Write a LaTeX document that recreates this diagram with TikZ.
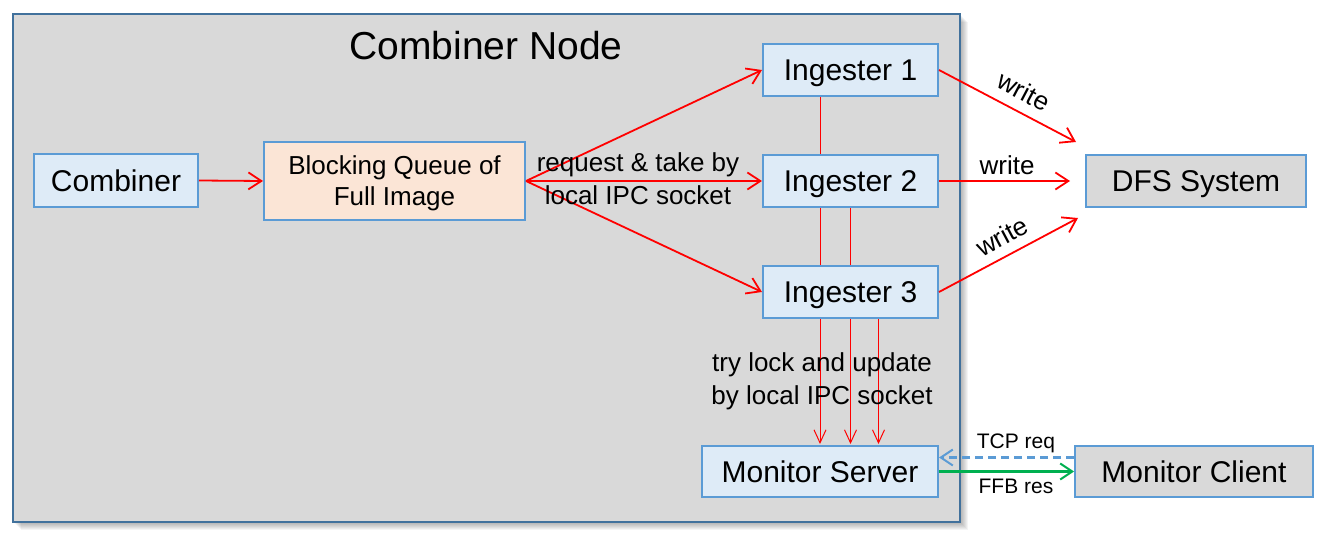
\documentclass[tikz,border=0pt]{standalone}
\usepackage{fontspec}
\setmainfont{Liberation Sans}
\usetikzlibrary{arrows.meta,calc}
\definecolor{boxblue}{HTML}{5B9BD5}
\definecolor{nodefill}{HTML}{DEEBF7}
\definecolor{queuefill}{HTML}{FBE5D6}
\definecolor{panel}{HTML}{D9D9D9}
\definecolor{panelborder}{HTML}{41719C}
\definecolor{arrowred}{HTML}{FF0000}
\definecolor{arrowgreen}{HTML}{00B050}
\begin{document}
\begin{tikzpicture}[x=1pt,y=-1pt,
  box/.style={draw=boxblue, line width=2pt, fill=nodefill, inner sep=0pt,
    text depth=0pt, font=\fontsize{30}{35}\selectfont},
  lbl/.style={font=\fontsize{26}{33}\selectfont, align=center, inner sep=1pt},
  smalllbl/.style={font=\fontsize{21}{25}\selectfont, inner sep=1pt},
  redarrow/.style={draw=arrowred, line width=1.8pt, -{Straight Barb[length=13pt,width=17pt,line width=1.8pt]}},
  thinred/.style={draw=arrowred, line width=1pt},
  thinarrow/.style={thinred, -{Straight Barb[length=13pt,width=12pt,line width=1pt]}},
]
\useasboundingbox (0,0) rectangle (1329,540);
% shadow
\foreach \i in {1,...,8}{
  \fill[black, opacity=0.045] (13+\i,14+\i) rectangle (960+\i,522+\i);
}
% panel
\draw[fill=panel, draw=panelborder, line width=2.4pt] (13,14) rectangle (960,522);
\node[font=\fontsize{39}{45}\selectfont] (title) at (486,46) {Combiner Node};

% nodes
\node[box, minimum width=164pt, minimum height=53pt] (comb) at (116,180.5) {Combiner};
\node[box, fill=queuefill, align=center, minimum width=261pt, minimum height=78pt,
  font=\fontsize{26}{31}\selectfont] (queue) at (394.5,181) {Blocking Queue of\\Full Image};
\node[box, minimum width=175pt, minimum height=52pt] (ing1) at (850.5,70) {Ingester 1};
\node[box, minimum width=175pt, minimum height=52pt] (ing2) at (850.5,181) {Ingester 2};
\node[box, minimum width=175pt, minimum height=52pt] (ing3) at (850.5,292) {Ingester 3};
\node[box, minimum width=236pt, minimum height=51pt] (ms) at (820,471.5) {Monitor Server};
\node[box, fill=panel, minimum width=220pt, minimum height=52pt] (dfs) at (1196,181) {DFS System};
\node[box, fill=panel, minimum width=238pt, minimum height=51pt] (mc) at (1194,471.5) {Monitor Client};

% combiner -> queue
\draw[redarrow] (comb.east) -- (queue.west);
% queue -> ingesters
\draw[redarrow] (queue.east) -- (ing1.west);
\draw[redarrow] (queue.east) -- (ing2.west);
\draw[redarrow] (queue.east) -- (ing3.west);
\node[lbl] (reqlbl) at (638,179) {request \& take by\\local IPC socket};

% vertical links
\draw[thinred] ($(ing1.south)+(-30.5,0)$) -- ($(ing2.north)+(-30.5,0)$);
\draw[thinred] ($(ing2.south)+(-30.5,0)$) -- ($(ing3.north)+(-30.5,0)$);
\draw[thinred] (ing2.south) -- (ing3.north);
\draw[thinarrow] ($(ing3.south)+(-30.5,0)$) -- ($(ms.north)+(0,-1)$);
\draw[thinarrow] (ing3.south) -- ($(ms.north)+(30.5,-1)$);
\draw[thinarrow] ($(ing3.south)+(28,0)$) -- ($(ms.north)+(58.5,-1)$);
\node[lbl] (locklbl) at (822,381) {try lock and update\\by local IPC socket};

% write arrows
\coordinate (w1) at (1076,142);
\coordinate (w2) at (1070,181);
\coordinate (w3) at (1078,218);
\draw[redarrow] (ing1.east) -- node[lbl, sloped, above=9pt, pos=0.55] {write} (w1);
\draw[redarrow] (ing2.east) -- node[lbl, above=4pt, pos=0.52] {write} (w2);
\draw[redarrow] (ing3.east) -- node[lbl, sloped, above=8pt, pos=0.52] {write} (w3);

% monitor arrows
\draw[draw=boxblue, line width=2.2pt, dash pattern=on 8pt off 5pt,
  -{Straight Barb[length=12pt,width=16pt,line width=2pt]}]
  ($(mc.west)+(0,-14)$) -- node[smalllbl, above=3pt, pos=0.43] {TCP req} ($(ms.east)+(0,-14)$);
\draw[draw=arrowgreen, line width=2.2pt,
  -{Straight Barb[length=12pt,width=16pt,line width=2pt]}]
  (ms.east) -- node[smalllbl, below=5pt, pos=0.57] {FFB res} (mc.west);
\end{tikzpicture}
\end{document}
